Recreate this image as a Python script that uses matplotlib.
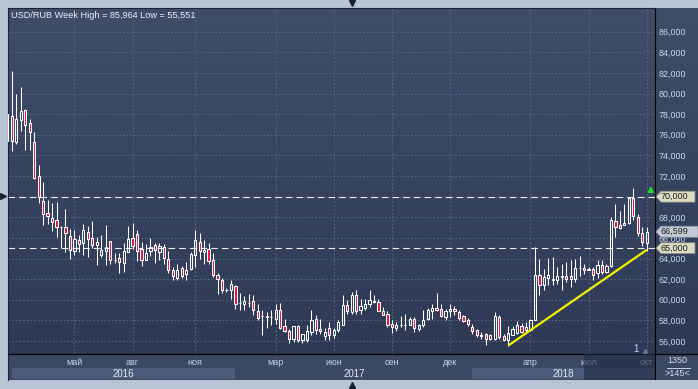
import numpy as np
import matplotlib
matplotlib.use("Agg")
import matplotlib.pyplot as plt
import matplotlib.transforms as mtransforms
from matplotlib.colors import LinearSegmentedColormap
from matplotlib.patches import Polygon, Rectangle
from matplotlib.lines import Line2D

plt.rcParams["font.family"] = ["Liberation Sans", "DejaVu Sans"]

# weekly USD/RUB candles, late Jan 2016 .. early Oct 2018
opens = [75.4, 77.84, 75.27, 77.42, 78.42, 77.1, 75.33, 72.04, 69.6, 68.42,
         67.97, 67.7, 67.1, 67.1, 66.23, 64.7, 65.8, 65.49, 66.55, 66.0,
         65.33, 64.36, 64.71, 65.68, 63.87, 64.03, 63.55, 64.61, 66.0, 66.39,
         64.94, 63.81, 64.77, 65.35, 64.61, 65.16, 63.97, 62.84, 62.13, 63.1,
         62.52, 63.0, 64.39, 65.58, 64.61, 64.94, 63.87, 62.45, 61.93, 60.99,
         60.97, 61.29, 59.7, 59.55, 59.72, 59.84, 58.87, 58.42, 58.37, 58.34,
         58.16, 58.97, 57.42, 56.93, 56.22, 57.42, 56.13, 56.13, 56.87, 58.1,
         57.13, 56.45, 57.29, 56.61, 57.03, 57.51, 59.45, 58.8, 60.42, 59.03,
         59.22, 59.55, 59.82, 59.77, 58.87, 58.64, 57.61, 57.29, 57.56, 57.6,
         57.58, 58.16, 57.19, 57.51, 58.16, 58.9, 59.22, 59.13, 58.32, 58.9,
         59.13, 58.8, 58.39, 58.0, 57.35, 57.03, 56.53, 56.71, 56.23, 56.23,
         58.32, 56.45, 56.06, 56.55, 56.77, 57.42, 57.03, 57.1, 58.06, 62.45,
         61.39, 62.13, 62.03, 61.94, 62.24, 62.26, 62.03, 62.03, 63.08, 63.07,
         62.84, 63.0, 62.58, 63.42, 62.68, 63.32, 67.68, 67.26, 67.29, 67.42,
         69.87, 68.07, 66.45, 65.48]
highs = [85.964, 82.2, 79.94, 80.65, 78.55, 77.52, 76.3, 73.1, 71.45, 69.68,
         69.36, 69.5, 67.2, 68.8, 66.87, 66.77, 66.33, 67.36, 67.2, 67.6,
         66.07, 66.33, 67.26, 65.74, 64.55, 64.52, 65.48, 67.19, 67.42, 66.77,
         65.58, 65.42, 66.0, 65.48, 65.48, 65.42, 64.77, 63.16, 63.48, 63.32,
         63.65, 64.61, 66.77, 66.45, 65.8, 65.48, 64.52, 62.58, 62.13, 61.13,
         61.93, 61.39, 60.68, 60.35, 60.58, 60.42, 59.61, 59.03, 58.8, 59.03,
         59.55, 59.68, 58.16, 57.13, 57.42, 57.52, 56.71, 57.52, 59.03, 58.48,
         58.16, 57.29, 57.84, 57.29, 58.0, 60.42, 60.0, 60.74, 60.97, 60.1,
         60.1, 60.9, 60.42, 60.1, 59.29, 58.9, 58.06, 57.84, 58.39, 58.58,
         58.32, 58.32, 57.67, 58.97, 59.22, 59.61, 60.64, 59.61, 59.13, 59.61,
         59.35, 58.97, 58.48, 58.23, 57.68, 57.19, 56.87, 56.77, 56.71, 58.8,
         58.48, 56.71, 57.42, 57.42, 57.9, 57.74, 57.84, 58.16, 65.1, 63.97,
         63.0, 64.07, 64.13, 63.16, 63.48, 63.65, 63.81, 63.97, 64.2, 63.48,
         63.16, 63.16, 63.81, 63.81, 63.48, 68.07, 69.29, 68.58, 69.29, 69.94,
         70.84, 68.32, 67.1, 67.03]
lows = [75.2, 74.46, 75.1, 76.33, 74.52, 74.52, 71.7, 69.36, 67.26, 67.36,
        66.65, 66.13, 65.0, 64.6, 63.97, 64.39, 64.6, 64.3, 64.13, 65.0,
        63.42, 64.13, 63.42, 63.49, 63.58, 62.58, 62.68, 64.61, 64.94, 63.74,
        63.32, 63.81, 64.29, 63.55, 63.87, 63.48, 62.58, 61.87, 61.87, 62.13,
        61.93, 62.9, 63.16, 63.97, 63.48, 63.48, 62.19, 60.52, 60.65, 60.74,
        60.1, 59.13, 59.03, 58.97, 59.29, 58.55, 58.06, 56.55, 57.26, 57.52,
        57.61, 57.13, 56.87, 55.8, 55.9, 55.9, 55.8, 55.9, 56.55, 56.71,
        56.64, 56.06, 56.13, 56.32, 56.87, 57.51, 58.58, 58.58, 58.64, 58.64,
        59.03, 59.29, 59.68, 58.9, 58.48, 57.35, 56.77, 56.97, 57.35, 57.1,
        57.51, 56.87, 56.97, 57.35, 58.0, 58.16, 58.9, 58.32, 58.0, 58.32,
        58.48, 58.07, 57.84, 57.42, 56.71, 56.39, 56.23, 55.58, 56.06, 56.06,
        56.23, 56.06, 55.551, 56.55, 56.71, 56.77, 56.87, 57.03, 58.06, 60.42,
        60.9, 61.39, 61.39, 61.55, 60.97, 61.71, 61.23, 61.71, 62.26, 62.52,
        62.84, 61.94, 62.13, 62.52, 62.58, 63.22, 66.13, 66.87, 67.29, 67.36,
        67.74, 66.23, 65.26, 64.77]
closes = [78.0, 75.42, 77.52, 78.33, 76.94, 76.3, 71.78, 69.94, 68.33, 68.1,
          67.58, 67.04, 67.07, 66.45, 64.78, 65.9, 65.42, 66.77, 65.9, 65.33,
          65.58, 64.84, 65.1, 63.81, 63.84, 63.65, 64.77, 65.9, 65.19, 64.71,
          63.81, 64.55, 65.1, 64.84, 65.26, 64.06, 62.9, 62.35, 62.9, 62.35,
          62.9, 64.45, 65.8, 64.71, 64.84, 63.74, 62.45, 62.03, 60.97, 60.97,
          61.55, 59.61, 59.66, 59.84, 59.68, 59.03, 58.22, 58.38, 58.4, 58.3,
          58.97, 57.29, 56.93, 56.22, 57.42, 56.13, 56.64, 56.93, 58.0, 57.03,
          56.93, 56.84, 56.55, 57.03, 57.84, 59.45, 58.9, 60.42, 58.9, 59.35,
          59.55, 60.0, 59.87, 58.9, 58.55, 57.51, 57.35, 57.51, 57.6, 57.56,
          58.16, 57.29, 57.51, 58.06, 59.03, 59.19, 59.03, 58.42, 58.87, 59.13,
          58.9, 58.23, 57.93, 57.68, 56.93, 56.55, 56.57, 56.23, 56.55, 58.39,
          56.39, 56.13, 56.77, 57.19, 57.52, 56.87, 57.35, 58.06, 62.45, 61.39,
          62.19, 62.45, 61.87, 62.26, 62.28, 62.03, 62.26, 63.1, 63.12, 62.84,
          63.0, 62.45, 63.42, 62.68, 63.32, 67.74, 67.1, 66.94, 67.42, 69.87,
          68.16, 66.45, 65.58, 66.6]

month_labels = ["май", "авг", "ноя", "мар", "июн", "сен", "дек", "апр", "июл", "окт"]
month_weeks = [15, 28, 42, 60, 73, 86, 99, 117, 130, 143]
year_labels = ["2016", "2017", "2018"]
year_first_week = [1, 51, 104]

level_lines = [70.0, 65.0]
last_price = 66.599
trend_weeks = [112, 143]
trend_values = [55.551, 64.84]

W, H = 698, 389
BG_TOP, BG_BOT = "#3f4d69", "#2e3a55"
RED = "#e3163e"


def rect(x0, y0, x1, y1):
    # pixel box (origin top-left) -> figure fraction
    return [x0 / W, 1 - y1 / H, (x1 - x0) / W, (y1 - y0) / H]


def fmt(v):
    return f"{v:.3f}".replace(".", ",")


fig = plt.figure(figsize=(W / 100, H / 100), dpi=100, facecolor="#b9c5d5")

# gradient background behind price area and right scale
bg = fig.add_axes(rect(8, 8, 698, 354), zorder=0)
cmap = LinearSegmentedColormap.from_list("panel", [BG_BOT, BG_TOP])
bg.imshow(np.linspace(1, 0, 256).reshape(-1, 1), cmap=cmap, aspect="auto",
          extent=(0, 1, 0, 1), vmin=0, vmax=1)
bg.axis("off")

ax = fig.add_axes(rect(8, 8, 655, 354), zorder=1)
ax.set_facecolor("none")
x0, x1 = 0.14, 144.85
ax.set_xlim(x0, x1)
ax.set_ylim(54.74, 88.30)

yt = np.arange(56, 87, 2)
ax.set_xticks(month_weeks)
ax.set_yticks(yt)
# the 70,000 level is shown by its own tag instead of the plain label
ax.set_yticklabels(["" if v in level_lines else fmt(v) for v in yt])
ax.grid(True, color="#5a6a89", lw=0.7, linestyle=(0, (1.5, 2.3)))
ax.tick_params(axis="x", length=0, labelbottom=False)
ax.yaxis.tick_right()
ax.tick_params(axis="y", length=0, pad=2.5, labelsize=6.4, labelcolor="#c9d8ee")
for side in ("left", "top"):
    ax.spines[side].set_color("#1b2232")
for side in ("right", "bottom"):
    ax.spines[side].set_color("black")
for sp in ax.spines.values():
    sp.set_linewidth(0.8)

for lv in level_lines:
    ax.axhline(lv, color="#ececec", lw=0.8, dashes=(6, 3.6), zorder=2)

# candles
xs = np.arange(len(opens))
o, h, l, c = map(np.asarray, (opens, highs, lows, closes))
top = np.maximum(o, c)
bot = np.minimum(o, c)
ax.vlines(xs, top, h, color="white", lw=0.75, zorder=3)
ax.vlines(xs, l, bot, color="white", lw=0.75, zorder=3)
faces = [RED if cc < oo else "none" for oo, cc in zip(o, c)]
ax.bar(xs, np.maximum(top - bot, 0.01), bottom=bot, width=0.5, color=faces,
       edgecolor="white", linewidth=0.75, zorder=4)

ax.plot(trend_weeks, trend_values, color="#f2f200", lw=1.6, zorder=5,
        solid_capstyle="butt")

ax.text(3 / 647, 1 - 7 / 346, f"USD/RUB Week High = {fmt(max(highs))} Low = {fmt(min(lows))}",
        transform=ax.transAxes, ha="left", va="center", fontsize=6.6, color="#e8eef8")

# price tags on the right scale
trans = mtransforms.blended_transform_factory(ax.transAxes, ax.transData)
px = 1 / 647
hh = 5.5 / (346 / (88.30 - 54.74))


def tag(y, text, face, edge, right=40):
    pts = [(1 + 1 * px, y), (1 + 6 * px, y + hh), (1 + right * px, y + hh),
           (1 + right * px, y - hh), (1 + 6 * px, y - hh)]
    ax.add_patch(Polygon(pts, closed=True, transform=trans, facecolor=face,
                         edgecolor=edge, lw=0.6, clip_on=False, zorder=6))
    ax.text(1 + 19 * px, y, text, transform=trans, ha="center", va="center",
            fontsize=6.5, color="#1e1e1e", clip_on=False, zorder=7)


tag(level_lines[0], fmt(level_lines[0]), "#dcdcc4", "#85857a")
tag(level_lines[1], fmt(level_lines[1]), "#dcdcc4", "#85857a")
tag(last_price, fmt(last_price), "#c6cad4", "#8a92a2", right=43)

ax.annotate("", xy=(143.9, 71.3), xytext=(143.9, 70.3),
            arrowprops=dict(arrowstyle="-|>", color="#1ee61e", lw=1.4,
                            mutation_scale=7), zorder=6)
ax.text(140.5, 55.25, "1", ha="center", va="center", fontsize=7, color="#b8cff0")
ax.plot([142.6], [55.05], marker="^", ms=3, color="#6d7890", zorder=2)

# time band under the chart
band = fig.add_axes(rect(8, 354, 698, 380), zorder=1)
band.set_facecolor("#3b4864")
band.set_xlim(x0, x0 + (x1 - x0) * 690 / 647)
band.set_ylim(0, 26)
band.set_xticks([])
band.set_yticks([])
for side, sp in band.spines.items():
    sp.set_linewidth(0.8)
    sp.set_color({"top": "black", "left": "#1b2232"}.get(side, "none"))

bounds = year_first_week + [x1]
for i, yl in enumerate(year_labels):
    if i % 2 == 0:
        band.add_patch(Rectangle((bounds[i], 1), bounds[i + 1] - bounds[i], 11,
                                 facecolor="#4c5b79", edgecolor="none"))
    band.text((bounds[i] + bounds[i + 1]) / 2, 6.3, yl, ha="center", va="center",
              fontsize=7, color="#e3eaf5")
for mw, ml in zip(month_weeks, month_labels):
    band.text(mw, 17.5, ml, ha="center", va="center", fontsize=6.5, color="#c3d3ea")

band.add_patch(Rectangle((128.9, 0), x1 - 128.9, 26, facecolor="#1f2940",
                         alpha=0.6, edgecolor="none", zorder=5))
band.axvline(x1, color="black", lw=0.8, zorder=6)
band.text(149.9, 19.2, "1350", ha="center", va="center", fontsize=6.5, color="#d5dff0")
band.plot([147.5, 152.6], [12.5, 12.5], color="#c8d2e4", lw=0.7)
band.text(149.9, 6.2, ">145<", ha="center", va="center", fontsize=6.5, color="#d5dff0")

# small window markers on the frame
for mx, my, mk in [(352, 3, "v"), (352, 385, "^"), (3, 196, ">")]:
    fig.add_artist(Line2D([mx / W], [1 - my / H], marker=mk, ms=4.5,
                          color="#1b2130", transform=fig.transFigure))

fig.savefig("out.png", dpi=100, facecolor=fig.get_facecolor())
